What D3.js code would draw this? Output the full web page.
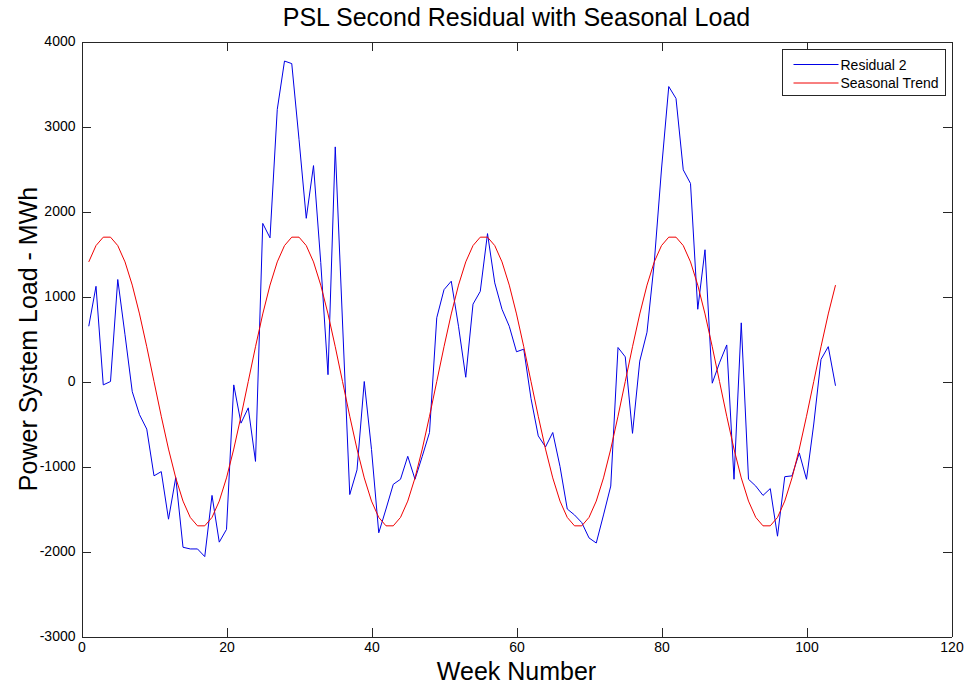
<!DOCTYPE html>
<html>
<head>
<meta charset="utf-8">
<script src="https://cdn.jsdelivr.net/npm/d3@7/dist/d3.min.js"></script>
<style>
    body { margin: 0; background: #fff; }
    svg text { font-family: "Liberation Sans", Arial, Helvetica, sans-serif; fill: #000; }
    .axis path, .axis line { stroke: #262626; shape-rendering: crispEdges; }
</style>
</head>
<body>
<div id="container"></div>
<script>
// week numbers on the x axis
const weeks = [
    1, 2, 3, 4, 5, 6, 7, 8, 9, 10, 11, 12, 13, 14, 15, 16, 17, 18, 19, 20,
    21, 22, 23, 24, 25, 26, 27, 28, 29, 30, 31, 32, 33, 34, 35, 36, 37, 38, 39, 40,
    41, 42, 43, 44, 45, 46, 47, 48, 49, 50, 51, 52, 53, 54, 55, 56, 57, 58, 59, 60,
    61, 62, 63, 64, 65, 66, 67, 68, 69, 70, 71, 72, 73, 74, 75, 76, 77, 78, 79, 80,
    81, 82, 83, 84, 85, 86, 87, 88, 89, 90, 91, 92, 93, 94, 95, 96, 97, 98, 99, 100,
    101, 102, 103, 104
];

// Residual 2 (MWh)
const residual2 = [
    650, 1120, -40, 0, 1200, 550, -120, -390, -560, -1110,
    -1060, -1620, -1130, -1950, -1970, -1970, -2060, -1340, -1890, -1740,
    -40, -490, -310, -940, 1860, 1690, 3200, 3770, 3740, 2850,
    1920, 2540, 1400, 80, 2760, 700, -1330, -1040, 0, -800,
    -1780, -1500, -1210, -1150, -880, -1150, -880, -600, 750, 1080,
    1180, 650, 50, 910, 1060, 1740, 1160, 850, 650, 350,
    380, -200, -640, -770, -600, -1000, -1500, -1570, -1660, -1840,
    -1900, -1570, -1230, 400, 290, -610, 240, 580, 1400, 2500,
    3470, 3330, 2490, 2330, 850, 1550, -20, 220, 430, -1150,
    690, -1150, -1230, -1340, -1260, -1820, -1120, -1110, -840, -1150,
    -500, 260, 410, -50
];

// Seasonal Trend (MWh)
const seasonalTrend = [
    1407, 1599, 1698, 1698, 1599, 1407, 1134, 795, 409, 0, -409, -795, -1134,
    -1407, -1599, -1698, -1698, -1599, -1407, -1134, -795, -409, 0, 409, 795, 1134,
    1407, 1599, 1698, 1698, 1599, 1407, 1134, 795, 409, 0, -409, -795, -1134,
    -1407, -1599, -1698, -1698, -1599, -1407, -1134, -795, -409, 0, 409, 795, 1134,
    1407, 1599, 1698, 1698, 1599, 1407, 1134, 795, 409, 0, -409, -795, -1134,
    -1407, -1599, -1698, -1698, -1599, -1407, -1134, -795, -409, 0, 409, 795, 1134,
    1407, 1599, 1698, 1698, 1599, 1407, 1134, 795, 409, 0, -409, -795, -1134,
    -1407, -1599, -1698, -1698, -1599, -1407, -1134, -795, -409, 0, 409, 795, 1134
];

const xTicks = [0, 20, 40, 60, 80, 100, 120];
const yTicks = [-3000, -2000, -1000, 0, 1000, 2000, 3000, 4000];

const seriesNames = ["Residual 2", "Seasonal Trend"];
const seriesColors = ["#0000e6", "#f00000"];

// set the dimensions and margins of the graph
const width = 967, height = 688;
const margin = { top: 41.5, left: 81.5, right: 15.5, bottom: 51.5 };
const plotW = width - margin.left - margin.right;
const plotH = height - margin.top - margin.bottom;

const svg = d3.select("#container")
    .append("svg")
    .attr("width", width)
    .attr("height", height);

const g = svg.append("g")
    .attr("transform", `translate(${margin.left},${margin.top})`);

const x = d3.scaleLinear().domain([0, 120]).range([0, plotW]);
const y = d3.scaleLinear().domain([-3000, 4000]).range([plotH, 0]);

// plain numbers with a hyphen minus, like matlab
const plain = d => String(d);

// white plot area
g.append("rect")
    .attr("width", plotW)
    .attr("height", plotH)
    .attr("fill", "#fff");

// axes, ticks pointing inwards
const tickLen = 9;
g.append("g")
    .attr("class", "axis")
    .attr("transform", `translate(0,${plotH})`)
    .call(d3.axisBottom(x).tickValues(xTicks).tickFormat(plain)
        .tickSizeInner(-tickLen).tickSizeOuter(0).tickPadding(6))
    .call(a => a.selectAll("text").attr("font-size", 14));
g.append("g")
    .attr("class", "axis")
    .call(d3.axisLeft(y).tickValues(yTicks).tickFormat(plain)
        .tickSizeInner(-tickLen).tickSizeOuter(0).tickPadding(6))
    .call(a => a.selectAll("text").attr("font-size", 14));
g.append("g")
    .attr("class", "axis")
    .call(d3.axisTop(x).tickValues(xTicks).tickSizeInner(-tickLen).tickSizeOuter(0).tickFormat(""));
g.append("g")
    .attr("class", "axis")
    .attr("transform", `translate(${plotW},0)`)
    .call(d3.axisRight(y).tickValues(yTicks).tickSizeInner(-tickLen).tickSizeOuter(0).tickFormat(""));

// lines
const line = d3.line()
    .x(d => x(d[0]))
    .y(d => y(d[1]));

[residual2, seasonalTrend].forEach((vals, i) => {
    g.append("path")
        .datum(weeks.map((w, j) => [w, vals[j]]))
        .attr("fill", "none")
        .attr("stroke", seriesColors[i])
        .attr("stroke-width", 1)
        .attr("stroke-linejoin", "round")
        .attr("d", line);
});

// legend
const legend = g.append("g")
    .attr("transform", `translate(${plotW - 169},${8})`);
legend.append("rect")
    .attr("width", 163)
    .attr("height", 46)
    .attr("fill", "#fff")
    .attr("stroke", "#262626")
    .attr("shape-rendering", "crispEdges");
seriesNames.forEach((name, i) => {
    const ly = 15 + i * 18.5;
    legend.append("line")
        .attr("x1", 11).attr("x2", 56)
        .attr("y1", ly).attr("y2", ly)
        .attr("stroke", seriesColors[i])
        .attr("stroke-width", 1);
    legend.append("text")
        .text(name)
        .attr("x", 58)
        .attr("y", ly + 5)
        .attr("font-size", 14);
});

// title and axis labels
svg.append("text")
    .text("PSL Second Residual with Seasonal Load")
    .attr("x", margin.left + plotW / 2)
    .attr("y", 26)
    .attr("text-anchor", "middle")
    .attr("font-size", 25);
svg.append("text")
    .text("Week Number")
    .attr("x", margin.left + plotW / 2)
    .attr("y", 680)
    .attr("text-anchor", "middle")
    .attr("font-size", 25);
svg.append("text")
    .text("Power System Load - MWh")
    .attr("transform", "rotate(-90)")
    .attr("x", -(margin.top + plotH / 2))
    .attr("y", 37)
    .attr("text-anchor", "middle")
    .attr("font-size", 25);
</script>
</body>
</html>
